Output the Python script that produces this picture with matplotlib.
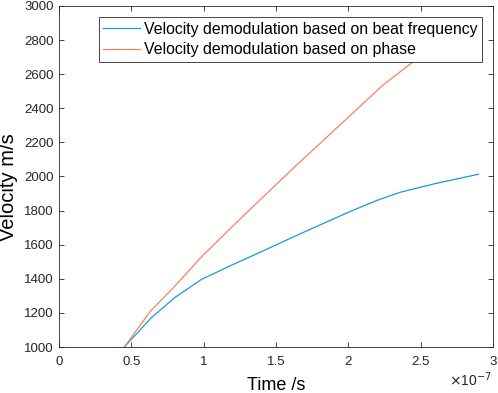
import numpy as np
import matplotlib
matplotlib.use('Agg')
import matplotlib.pyplot as plt
from matplotlib.ticker import FuncFormatter

# 数据：时间 (s) 与速度 (m/s)
t_beat = [0.451e-7, 0.641e-7, 0.802e-7, 0.986e-7, 1.17e-7, 1.355e-7, 1.665e-7,
          2.011e-7, 2.196e-7, 2.357e-7, 2.61e-7, 2.90e-7]
v_beat = [1000, 1174, 1291, 1397, 1471, 1542, 1663, 1794, 1859, 1907, 1960, 2013]

t_phase = [0.451e-7, 0.629e-7, 0.802e-7, 0.986e-7, 1.285e-7, 1.619e-7, 1.942e-7,
           2.241e-7, 2.449e-7, 2.70e-7, 2.90e-7]
v_phase = [1000, 1207, 1358, 1530, 1778, 2048, 2302, 2537, 2673, 2840, 2925]

labels = ['Velocity demodulation based on beat frequency',
          'Velocity demodulation based on phase']

plt.rcParams['font.family'] = ['Liberation Sans', 'DejaVu Sans']

fig = plt.figure(figsize=(4.98, 3.93), dpi=100)
ax = fig.add_axes([0.1185, 0.117, 0.8715, 0.868])

ax.plot(t_beat, v_beat, color='#1a9ad6', lw=0.9, label=labels[0])
ax.plot(t_phase, v_phase, color='#f5845c', lw=0.9, label=labels[1])

ax.set_xlim(0, 3e-7)
ax.set_ylim(1000, 3000)
ax.set_xticks(np.arange(0, 3.01e-7, 0.5e-7))
ax.set_yticks(np.arange(1000, 3001, 200))
ax.xaxis.set_major_formatter(FuncFormatter(lambda v, p: f"{v / 1e-7:g}"))

# MATLAB 风格：刻度朝内，四边都有
ax.tick_params(direction='in', top=True, right=True, length=3.5, width=0.6,
               labelsize=9.5, colors='#262626', pad=4)
ax.tick_params(axis='x', pad=6.5)
for s in ax.spines.values():
    s.set_color('#262626')
    s.set_linewidth(0.6)

ax.set_xlabel('Time /s', fontsize=13)
ax.xaxis.set_label_coords(0.5, -0.088)
ax.set_ylabel('Velocity m/s', fontsize=14.5)
ax.yaxis.set_label_coords(-0.094, 0.469)
ax.text(0.998, -0.114, r'$\times$10$^{-7}$', transform=ax.transAxes,
        ha='right', va='baseline', fontsize=10, color='#262626')

leg = ax.legend(loc='upper right', bbox_to_anchor=(0.9747, 0.9677), fontsize=11.4,
                frameon=True, fancybox=False, framealpha=1, handlelength=2.3,
                borderpad=0.3, labelspacing=0.35, handletextpad=0.25,
                borderaxespad=0)
leg.get_frame().set_edgecolor('#262626')
leg.get_frame().set_linewidth(0.6)

fig.savefig('out.png', dpi=100)
